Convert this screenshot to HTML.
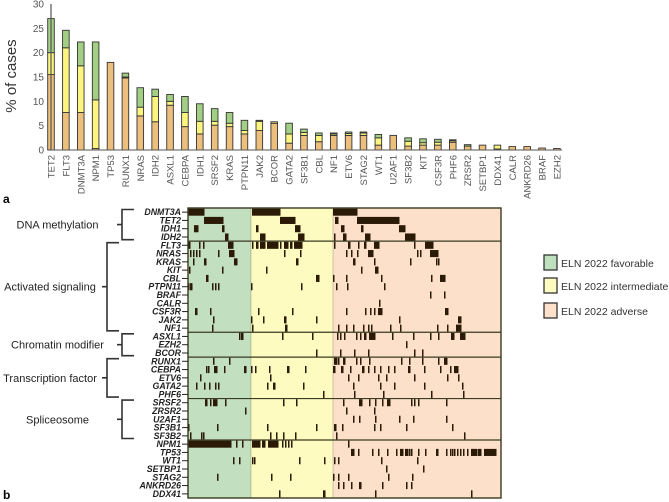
<!DOCTYPE html>
<html><head><meta charset="utf-8"><style>
html,body{margin:0;padding:0;background:#fff;width:669px;height:502px;overflow:hidden}
svg{display:block;font-family:"Liberation Sans",sans-serif}
</style></head><body>
<svg id="fig" width="669" height="502" viewBox="0 0 669 502">
<g id="panelA"></g>
<g id="panelB"></g>
<text x="3" y="203" font-size="12" font-weight="bold">a</text>
<text x="3" y="499" font-size="12" font-weight="bold">b</text>
<text transform="translate(16,76) rotate(-90)" text-anchor="middle" font-size="15" fill="#333">% of cases</text>
<g>
<rect x="544" y="255" width="13" height="15" fill="#bfe0bd" stroke="#333" stroke-width="1.3"/>
<text x="561" y="267" font-size="10.5" fill="#333">ELN 2022 favorable</text>
<rect x="544" y="278" width="13" height="15" fill="#fdfbbf" stroke="#333" stroke-width="1.3"/>
<text x="561" y="290" font-size="10.5" fill="#333">ELN 2022 intermediate</text>
<rect x="544" y="303" width="13" height="15" fill="#fde0c9" stroke="#333" stroke-width="1.3"/>
<text x="561" y="315" font-size="10.5" fill="#333">ELN 2022 adverse</text>
</g>
</svg>
<script>
const NS="http://www.w3.org/2000/svg";
const genesA=["TET2","FLT3","DNMT3A","NPM1","TP53","RUNX1","NRAS","IDH2","ASXL1","CEBPA","IDH1","SRSF2","KRAS","PTPN11","JAK2","BCOR","GATA2","SF3B1","CBL","NF1","ETV6","STAG2","WT1","U2AF1","SF3B2","KIT","CSF3R","PHF6","ZRSR2","SETBP1","DDX41","CALR","ANKRD26","BRAF","EZH2"];
const adverse=[15.5,7.7,7.7,0.3,18,14.8,7,5.8,9.2,4.8,3.3,5.1,4.8,3.3,4,5.5,1.4,3,1.7,3,3,3,1,3,0.8,1,1,1.6,0.8,1,0.2,0.7,0.7,0.4,0.3];
const intermediate=[4.5,13.3,9.6,10,0,0.2,1.8,5.2,0.8,2.9,2.6,0.8,0.7,0.7,1.9,0.3,1.9,0.6,1.3,0.3,0.4,0.5,1.5,0,1,0.5,0.6,0.3,0,0,0.8,0,0,0,0];
const favorable=[7,3.6,4.9,11.9,0,0.8,4,1.5,1.4,3.3,3.6,2.6,2.2,2.1,0.2,0,2.2,0.7,0.5,0.2,0.3,0.2,0.7,0,0.7,0.8,0.6,0.2,0.3,0,0,0,0,0,0];
const yTicks=[0,5,10,15,20,25,30];
const y=v=>150-v*(146/30);
const xc=i=>51+i*14.88;
const A=document.getElementById("panelA");
function mk(tag,attrs,parent){const e=document.createElementNS(NS,tag);for(const k in attrs)e.setAttribute(k,attrs[k]);parent.appendChild(e);return e;}
yTicks.forEach(t=>{
  const tx=mk("text",{x:44,y:y(t)+3.5,"text-anchor":"end","font-size":10,fill:"#555"},A);
  tx.textContent=t;
  
  
});
genesA.forEach((g,i)=>{
  const a=adverse[i],b=a+intermediate[i],c=b+favorable[i];
  const segs=[[0,a,"#edbf7c"],[a,b,"#fbf47e"],[b,c,"#a2cf84"]];
  segs.forEach(([s0,s1,col],k)=>{
    if(s1-s0<=0)return;
    const r=mk("rect",{x:xc(i)-3.3,y:y(s1),width:6.6,height:y(s0)-y(s1),fill:col,stroke:"#333","stroke-width":0.9},A);
    
    
  });
  const t=mk("text",{transform:`translate(${xc(i)+3.5},155) rotate(-90)`,"text-anchor":"end","font-size":9.5,fill:"#555"},A);
  t.textContent=g;
  
  
});
const ax=mk("line",{x1:51,y1:4,x2:51,y2:150,stroke:"#555","stroke-width":1.2},A);


const bx=mk("line",{x1:51,y1:150,x2:562,y2:150,stroke:"#555","stroke-width":1},A);



const rowGenes=["DNMT3A","TET2","IDH1","IDH2","FLT3","NRAS","KRAS","KIT","CBL","PTPN11","BRAF","CALR","CSF3R","JAK2","NF1","ASXL1","EZH2","BCOR","RUNX1","CEBPA","ETV6","GATA2","PHF6","SRSF2","ZRSR2","U2AF1","SF3B1","SF3B2","NPM1","TP53","WT1","SETBP1","STAG2","ANKRD26","DDX41"];
const riskGroups=[["favorable",0,63,"#c2dfc0"],["intermediate",63,145,"#fdfbbf"],["adverse",145,313,"#fde0c9"]];
const groupBreaks=[4,15,18,23,28];
const groupNames=[["DNA methylation",0,4,122],["Activated signaling",4,15,107],["Chromatin modifier",15,18,122],["Transcription factor",18,23,107],["Spliceosome",23,28,122]];
const mutations=[
[[0,16],[64,28],[145,24]],
[[16,19],[92,15],[147,3],[169,42]],
[[6,4],[34,2],[68,2],[107,5],[153,3],[173,2],[211,6]],
[[37,3],[72,5],[110,6],[146,1],[155,3],[177,5],[217,10]],
[[0,2],[11,1],[15,1],[40,5],[64,1],[68,2],[72,5],[79,11],[92,1],[96,4],[102,2],[106,8],[146,1],[160,2],[170,1],[176,2],[186,5],[226,1],[237,8]],
[[2,1],[5,1],[8,1],[11,1],[30,1],[41,5],[96,1],[112,1],[158,1],[163,1],[169,1],[180,5],[229,1],[232,1],[242,8]],
[[5,1],[16,2],[46,3],[108,2],[165,2],[186,1],[222,1],[248,1],[250,1]],
[[1,1],[34,1],[78,1],[173,1],[187,3]],
[[18,2],[128,3],[145,1],[158,1],[193,1],[243,1],[252,5]],
[[0,1],[2,1],[3,1],[24,1],[27,1],[30,1],[63,1],[113,1],[148,1],[159,1],[196,1]],
[[242,1],[256,1]],
[[191,1]],
[[7,2],[22,1],[70,1],[104,1],[158,1],[177,1],[182,1],[186,1],[190,4],[257,3]],
[[25,1],[63,1],[75,1],[96,2],[128,1],[211,1],[270,3]],
[[24,1],[64,1],[97,2],[150,1],[158,1],[165,1],[175,1],[180,1],[183,1],[202,1],[212,1],[249,1],[259,1],[268,5]],
[[51,1],[53,2],[94,1],[124,1],[149,1],[152,1],[156,1],[168,1],[172,1],[176,2],[181,6],[204,1],[225,1],[242,1],[250,1],[263,3],[272,5]],
[[218,1]],
[[128,1],[152,1],[166,1],[180,1],[226,1],[234,1]],
[[25,1],[41,1],[146,3],[150,1],[155,2],[168,1],[172,1],[181,1],[213,1],[221,1],[234,1],[250,1],[256,3]],
[[18,1],[20,1],[26,3],[36,1],[56,2],[63,1],[67,1],[81,1],[99,2],[117,1],[145,2],[153,2],[162,1],[174,2],[180,1],[186,1],[192,1],[200,1],[206,1],[220,2],[236,1],[252,1],[262,1],[266,4]],
[[12,1],[82,1],[160,1],[170,1],[190,1],[198,1],[226,1],[259,1],[270,1]],
[[8,1],[16,1],[21,1],[27,1],[30,1],[79,1],[85,2],[115,1],[165,1],[192,1],[206,1],[236,1],[274,1]],
[[135,1],[166,1],[195,1],[243,1],[275,1]],
[[17,2],[22,1],[25,4],[37,1],[95,1],[108,1],[155,1],[171,3],[181,1],[187,1],[194,1],[199,3],[223,1],[226,1],[230,1],[258,1]],
[[57,1],[158,1],[186,1]],
[[165,1],[171,1],[187,1],[211,1],[225,1],[258,1]],
[[0,1],[29,1],[79,1],[128,1],[146,2],[154,1],[186,1],[192,1],[218,1],[264,1]],
[[2,1],[13,1],[15,1],[82,1],[88,1],[95,1],[107,1],[148,1],[276,1]],
[[0,43],[48,1],[54,1],[64,8],[74,3],[80,10],[94,1],[97,1],[100,1],[103,1],[160,1]],
[[163,3],[170,1],[184,1],[190,1],[199,1],[208,1],[212,3],[217,3],[221,1],[223,1],[230,1],[237,1],[248,2],[258,1],[262,1],[264,1],[266,1],[269,1],[272,1],[275,1],[279,1],[283,6],[290,3],[296,12]],
[[45,1],[51,1],[64,1],[66,1],[111,1],[136,1],[146,1],[150,1],[193,1],[229,1]],
[[198,1],[235,1]],
[[29,1],[83,1],[102,1],[145,1],[150,1],[160,1],[200,1],[224,1]],
[[150,1],[155,1],[163,1],[171,2],[194,1],[218,1],[223,1]],
[[91,1],[135,2],[187,1],[283,1]]
];
const B=document.getElementById("panelB");
const X0=188,Y0=208,RH=(498-208)/35;
const cx=c=>X0+c;
const ry=r=>Y0+r*RH;
riskGroups.forEach(([n,s,e,col])=>{
  const r=mk("rect",{x:cx(s),y:Y0,width:e-s,height:290,fill:col},B);
  
  
});
mutations.forEach((segs,ri)=>{
  segs.forEach(([s,l])=>{
    const r=mk("rect",{x:cx(s),y:ry(ri)+0.6,width:l+0.5,height:RH-1.2,fill:"#2b1a06"},B);
    
    
  });
});
groupBreaks.forEach(b=>{
  const l=mk("line",{x1:X0,x2:501,y1:ry(b),y2:ry(b),stroke:"#3b3a22","stroke-width":1.2},B);
  
  
});
[63,145].forEach(c=>{
  const l=mk("line",{x1:cx(c),x2:cx(c),y1:Y0,y2:498,stroke:"#3b3a22","stroke-width":0.6,"stroke-opacity":0.4},B);
  
  
});
const bd=mk("rect",{x:X0,y:Y0,width:313,height:290,fill:"none",stroke:"#3b3a22","stroke-width":1.4},B);


rowGenes.forEach((g,i)=>{
  const t=mk("text",{x:181,y:ry(i)+RH/2+3,"text-anchor":"end","font-size":8.8,"font-weight":"bold","font-style":"italic",fill:"#222"},B);
  t.textContent=g;
  
  
  const tk=mk("line",{x1:182,x2:188,y1:ry(i)+RH/2,y2:ry(i)+RH/2,stroke:"#222","stroke-width":1},B);
  
  
});
groupNames.forEach(([n,s,e,bxp])=>{
  const y1=ry(s)+1.5,y2=ry(e)-1.5,ym=(y1+y2)/2;
  const p=mk("path",{d:`M${bxp+12},${y1} H${bxp} V${y2} H${bxp+12} M${bxp},${ym} H${bxp-5}`,fill:"none",stroke:"#333","stroke-width":1.6},B);
  
  
  const t=mk("text",{x:(bxp-7)/2,y:ym+4,"text-anchor":"middle","font-size":11,fill:"#222"},B);
  t.textContent=n;
  
  
});
</script>
</body></html>
